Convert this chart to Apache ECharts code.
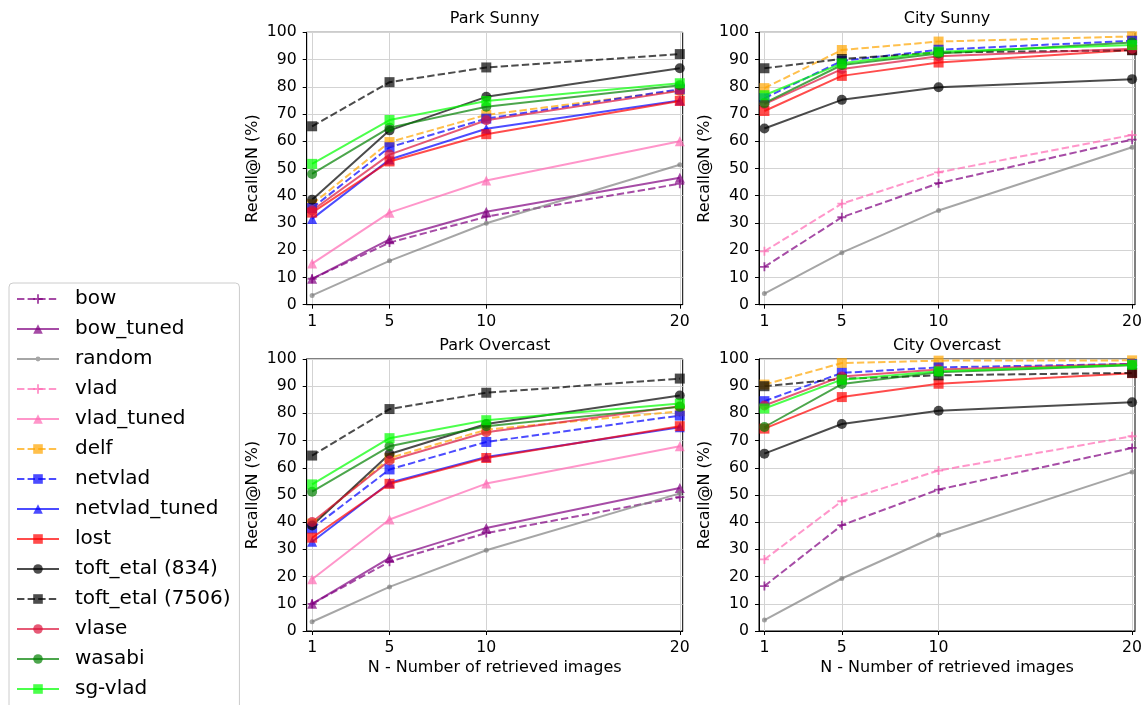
<!DOCTYPE html>
<html>
<head>
<meta charset="utf-8">
<script src="https://cdn.jsdelivr.net/npm/echarts@6/dist/echarts.min.js"></script>
<style>
html,body{margin:0;padding:0;background:#fff;}
#chart{width:1146px;height:705px;}
</style>
</head>
<body>
<div id="chart"></div>
<script>
// ---- data ----
const N = [1, 5, 10, 20];
const xTicks = [1, 5, 10, 20];
const methods = ['bow','bow_tuned','random','vlad','vlad_tuned','delf','netvlad','netvlad_tuned','lost','toft_etal (834)','toft_etal (7506)','vlase','wasabi','sg-vlad'];
const panelTitles = ['Park Sunny', 'City Sunny', 'Park Overcast', 'City Overcast'];

const parkSunny = {
  'bow': [9.5, 22.8, 32.3, 44.4],
  'bow_tuned': [9.5, 24.0, 34.1, 46.6],
  'random': [3.4, 16.1, 29.9, 51.4],
  'vlad_tuned': [15.1, 33.8, 45.6, 60.0],
  'delf': [36.9, 59.7, 69.7, 78.7],
  'netvlad': [35.5, 57.8, 68.3, 79.1],
  'netvlad_tuned': [31.5, 53.3, 64.6, 75.0],
  'lost': [33.8, 52.6, 62.6, 74.8],
  'toft_etal (834)': [38.5, 64.0, 76.3, 86.8],
  'toft_etal (7506)': [65.5, 81.7, 87.1, 92.0],
  'vlase': [34.6, 55.1, 67.7, 78.5],
  'wasabi': [48.0, 65.0, 72.7, 80.6],
  'sg-vlad': [51.7, 67.8, 74.8, 81.3]
};
const citySunny = {
  'bow': [13.9, 32.1, 44.6, 60.6],
  'random': [4.1, 19.1, 34.6, 57.8],
  'vlad': [19.6, 37.1, 48.6, 62.3],
  'delf': [79.5, 93.5, 96.6, 98.5],
  'netvlad': [75.8, 89.5, 93.6, 96.9],
  'lost': [71.1, 84.0, 88.9, 93.5],
  'toft_etal (834)': [64.7, 75.2, 79.8, 82.8],
  'toft_etal (7506)': [86.8, 90.2, 92.6, 93.4],
  'vlase': [73.6, 86.5, 91.2, 94.0],
  'wasabi': [74.0, 88.0, 92.2, 96.3],
  'sg-vlad': [76.9, 88.6, 92.9, 95.3]
};
const parkOvercast = {
  'bow': [10.0, 25.5, 36.0, 49.2],
  'bow_tuned': [10.0, 26.9, 37.9, 52.6],
  'random': [3.4, 16.2, 29.7, 50.6],
  'vlad_tuned': [19.0, 41.0, 54.2, 67.9],
  'delf': [39.5, 63.6, 74.0, 80.8],
  'netvlad': [37.7, 59.4, 69.5, 79.2],
  'netvlad_tuned': [32.8, 54.5, 64.0, 74.9],
  'lost': [34.3, 54.1, 63.6, 75.3],
  'toft_etal (834)': [38.8, 65.1, 76.1, 86.6],
  'toft_etal (7506)': [64.5, 81.6, 87.6, 92.8],
  'vlase': [40.1, 62.7, 73.1, 82.6],
  'wasabi': [51.2, 67.9, 75.3, 82.4],
  'sg-vlad': [53.9, 70.9, 77.5, 83.6]
};
const cityOvercast = {
  'bow': [16.5, 38.9, 52.0, 67.3],
  'random': [4.0, 19.3, 35.3, 58.5],
  'vlad': [26.3, 47.7, 59.0, 71.6],
  'delf': [90.6, 98.5, 99.4, 99.5],
  'netvlad': [84.5, 94.9, 96.9, 98.2],
  'lost': [74.4, 86.0, 90.9, 94.8],
  'toft_etal (834)': [65.2, 76.1, 81.0, 84.1],
  'toft_etal (7506)': [90.0, 92.7, 94.0, 94.9],
  'vlase': [82.9, 93.6, 96.1, 98.2],
  'wasabi': [75.0, 90.8, 95.1, 97.7],
  'sg-vlad': [81.8, 92.4, 95.5, 97.9]
};
const panels = [parkSunny, citySunny, parkOvercast, cityOvercast];

// ---- styles ----
const PLUS = 'path://M4,0h2v4h4v2h-4v4h-2v-4h-4v-2h4z';
const DASH = [7.4, 3.2];
const styles = {
  'bow': {c:'#800080', dash:DASH, sym:PLUS, sz:9},
  'bow_tuned': {c:'#800080', dash:'solid', sym:'triangle', sz:10},
  'random': {c:'#808080', dash:'solid', sym:'circle', sz:5},
  'vlad': {c:'#ff69b4', dash:DASH, sym:PLUS, sz:9},
  'vlad_tuned': {c:'#ff69b4', dash:'solid', sym:'triangle', sz:10},
  'delf': {c:'#ffa500', dash:DASH, sym:'rect', sz:10},
  'netvlad': {c:'#0000ff', dash:DASH, sym:'rect', sz:10},
  'netvlad_tuned': {c:'#0000ff', dash:'solid', sym:'triangle', sz:10},
  'lost': {c:'#ff0000', dash:'solid', sym:'rect', sz:10},
  'toft_etal (834)': {c:'#000000', dash:'solid', sym:'circle', sz:10},
  'toft_etal (7506)': {c:'#000000', dash:DASH, sym:'rect', sz:10},
  'vlase': {c:'#dc143c', dash:'solid', sym:'circle', sz:10},
  'wasabi': {c:'#008000', dash:'solid', sym:'circle', sz:10},
  'sg-vlad': {c:'#00ff00', dash:'solid', sym:'rect', sz:10}
};
// legend icon for 'random': line + small dot (bounding box 42x12)
const RANDOM_ICON = 'path://M0,0M42,12M0,5h42v2h-42z M18.6,6a2.4,2.4 0 1,1 4.8,0a2.4,2.4 0 1,1 -4.8,0z';

const FONT = 'DejaVu Sans';
const gridBoxes = [
  {left:306.7, top:32.3, width:376, height:272.4},
  {left:759, top:32.3, width:376, height:272.4},
  {left:306.7, top:359, width:376, height:272},
  {left:759, top:359, width:376, height:272}
];

const grids = gridBoxes.map(g => ({left:g.left, top:g.top, width:g.width, height:g.height,
  show:true, borderColor:'#000', borderWidth:1, backgroundColor:'transparent', containLabel:false}));

const xAxes = gridBoxes.map((g, i) => ({
  type:'value', gridIndex:i, min:0.72, max:20.15,
  name: i >= 2 ? 'N - Number of retrieved images' : '',
  nameLocation:'middle', nameGap:29,
  nameTextStyle:{fontFamily:FONT, fontSize:16, color:'#000'},
  axisLine:{show:true, onZero:false, lineStyle:{color:'#000', width:1}},
  axisTick:{show:true, inside:false, length:4, customValues:xTicks, lineStyle:{color:'#000'}},
  axisLabel:{show:true, customValues:xTicks, margin:9, fontFamily:FONT, fontSize:15.7, color:'#000'},
  splitLine:{show:true, lineStyle:{color:'#d3d3d3', width:1}}
}));

const yAxes = gridBoxes.map((g, i) => ({
  type:'value', gridIndex:i, min:0, max:100, interval:10,
  name:'Recall@N (%)', nameLocation:'middle', nameGap:46,
  nameTextStyle:{fontFamily:FONT, fontSize:16, color:'#000'},
  axisLine:{show:true, lineStyle:{color:'#000', width:1}},
  axisTick:{show:true, inside:false, length:4, lineStyle:{color:'#000'}},
  axisLabel:{show:true, margin:10, fontFamily:FONT, fontSize:15.7, color:'#000'},
  splitLine:{show:true, lineStyle:{color:'#d3d3d3', width:1}}
}));

const series = [];
panels.forEach((p, i) => {
  methods.forEach(m => {
    if (!p[m]) return;
    const s = styles[m];
    series.push({
      name:m, type:'line', xAxisIndex:i, yAxisIndex:i,
      data: N.map((n, k) => [n, p[m][k]]),
      symbol:s.sym, symbolSize:s.sz, showSymbol:true,
      lineStyle:{color:s.c, width:2, type:s.dash, opacity:0.7},
      itemStyle:{color:s.c, opacity:0.7, borderWidth:0},
      emphasis:{disabled:true}, animation:false
    });
  });
});

const titles = gridBoxes.map((g, i) => ({
  text: panelTitles[i], left: g.left + g.width/2, top: g.top - 21, textAlign:'center', padding:0,
  textStyle:{fontFamily:FONT, fontSize:16, fontWeight:'normal', color:'#000'}
}));

const legendData = methods.map(m => m === 'random'
  ? {name:m, icon:RANDOM_ICON, itemStyle:{color:'#808080', opacity:0.7}}
  : {name:m});

const option = {
  backgroundColor:'#fff',
  animation:false,
  title: titles,
  grid: grids,
  xAxis: xAxes,
  yAxis: yAxes,
  legend: {
    data: legendData, orient:'vertical', left:9, top:283, height:460,
    itemWidth:42, itemHeight:12, itemGap:10,
    padding:[6, 9, 30, 7],
    borderColor:'#cccccc', borderWidth:1, borderRadius:4, backgroundColor:'#fff',
    textStyle:{fontFamily:FONT, fontSize:20, color:'#000', padding:[0,0,0,11]},
    selectedMode:false
  },
  series: series
};

const chart = echarts.init(document.getElementById('chart'), null, {renderer:'canvas'});
chart.setOption(option);
</script>
</body>
</html>
